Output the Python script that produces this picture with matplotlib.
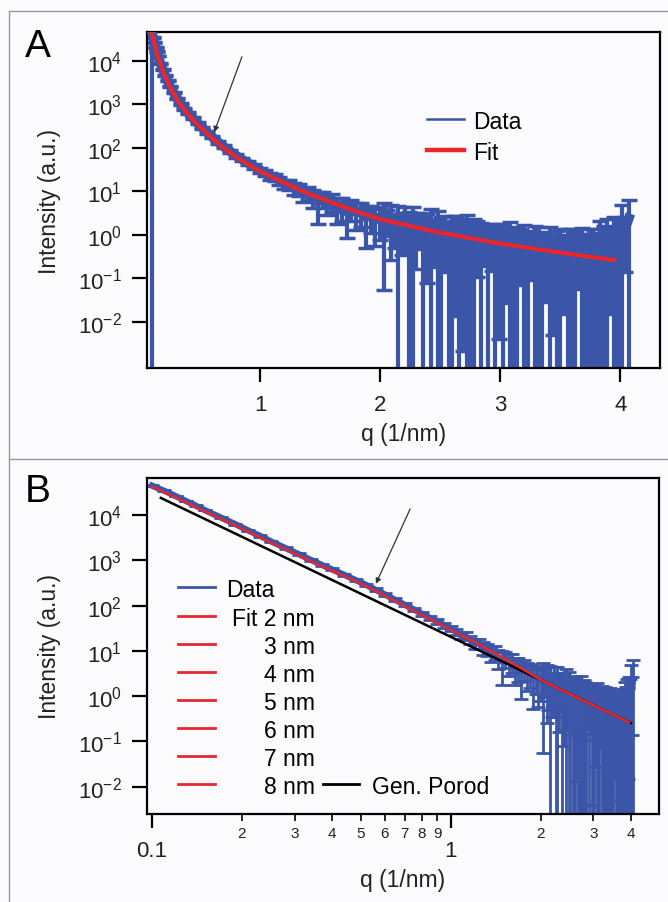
"""
Two-panel SAXS figure: (A) intensity vs q on a linear q axis with the fit,
(B) the same data on log-log axes with the size-series fits and the
generalised Porod line.

Output:
    out.png
"""
import numpy as np
import matplotlib
matplotlib.use('Agg')
import matplotlib.pyplot as plt
from matplotlib.lines import Line2D
from matplotlib.ticker import (FixedLocator, FixedFormatter, FuncFormatter,
                               NullLocator, LogFormatterSciNotation)

plt.rcParams['font.family'] = ['Liberation Sans', 'DejaVu Sans']
plt.rcParams['axes.unicode_minus'] = False
plt.rcParams['mathtext.default'] = 'regular'

BLUE = '#3b55a8'
RED = '#e8262b'
BG = '#fbfbfd'
GRID_GRAY = '#9a9a9a'

# ---- measured data (q in 1/nm, intensity in a.u., relative error) ----
q_data = [0.10, 0.11, 0.12, 0.13, 0.14, 0.15, 0.17, 0.19, 0.21, 0.23,
          0.25, 0.28, 0.31, 0.34, 0.37, 0.40, 0.44, 0.48, 0.52, 0.56,
          0.60, 0.65, 0.70, 0.75, 0.80, 0.85, 0.90, 0.95, 1.00,
          1.04, 1.08, 1.12, 1.16, 1.20, 1.24, 1.28, 1.32, 1.36, 1.40,
          1.44, 1.48, 1.52, 1.56, 1.60, 1.64, 1.68, 1.72, 1.76, 1.80,
          1.84, 1.88, 1.92, 1.96, 2.00,
          2.03, 2.06, 2.09, 2.12, 2.15, 2.18, 2.21, 2.24, 2.27, 2.30,
          2.33, 2.36, 2.39, 2.42, 2.45, 2.48, 2.51, 2.54, 2.57, 2.60,
          2.63, 2.66, 2.69, 2.72, 2.75, 2.78, 2.81, 2.84, 2.87, 2.90,
          2.93, 2.96, 2.99, 3.02, 3.05, 3.08, 3.11, 3.14, 3.17, 3.20,
          3.23, 3.26, 3.29, 3.32, 3.35, 3.38, 3.41, 3.44, 3.47, 3.50,
          3.53, 3.56, 3.59, 3.62, 3.65, 3.68, 3.71, 3.74, 3.77, 3.80,
          3.83, 3.86, 3.89, 3.92, 3.95, 3.98, 4.01, 4.04, 4.07]
I_data = [44700, 34300, 26300, 20400, 16200, 12900, 8810, 6310, 4570, 3470,
          2630, 1860, 1365, 1023, 794, 631, 479, 367, 288, 224,
          178, 135, 105, 83, 66, 54, 44.7, 37, 30.9,
          26.5, 21.9, 21.3, 17.7, 14.8, 14.7, 11.9, 11.1, 8.85, 9.55,
          7.35, 5.8, 6.93, 5.62, 6.03, 4.45, 4.54, 3.44, 4.25, 3.31,
          3.40, 2.55, 2.82, 2.26, 2.57,
          2.75, 2.34, 2.62, 1.69, 2.19, 1.74, 2.36, 1.49, 1.93, 1.65,
          1.86, 1.29, 1.56, 1.77, 1.20, 1.45, 1.25, 1.41, 0.92, 1.25,
          1.35, 1.04, 1.07, 1.14, 0.87, 1.01, 1.07, 0.84, 0.96, 0.85,
          0.96, 0.69, 0.80, 0.81, 0.67, 0.82, 0.71, 0.58, 0.70, 0.78,
          0.57, 0.61, 0.68, 0.72, 0.53, 0.57, 0.64, 0.51, 0.56, 0.64,
          0.50, 0.58, 0.63, 0.49, 0.56, 0.63, 0.49, 0.56, 0.61, 0.49,
          0.82, 0.71, 0.98, 0.76, 1.05, 1.02, 1.99, 1.38, 2.39]
rel_err = [0.02, 0.02, 0.02, 0.02, 0.02, 0.02, 0.03, 0.03, 0.03, 0.03,
           0.03, 0.04, 0.04, 0.04, 0.05, 0.05, 0.05, 0.06, 0.06, 0.07,
           0.07, 0.08, 0.08, 0.09, 0.10, 0.10, 0.11, 0.12, 0.13,
           0.15, 0.18, 0.20, 0.20, 0.25, 0.25, 0.30, 0.30, 0.35, 0.35,
           0.45, 0.70, 0.40, 0.50, 0.45, 0.60, 0.55, 0.75, 0.50, 0.60,
           0.55, 0.80, 0.60, 0.75, 0.70,
           0.98, 0.60, 0.90, 0.70, 1.10, 0.80, 0.85, 1.20, 1.30, 0.90,
           0.75, 1.10, 0.95, 1.20, 0.85, 1.40, 1.10, 0.90, 1.30, 1.20,
           0.99, 1.20, 0.998, 1.50, 1.10, 1.30, 0.90, 1.20, 0.80, 1.10,
           0.85, 1.30, 0.995, 1.20, 0.96, 1.40, 1.10, 1.30, 0.90, 1.20,
           1.10, 0.85, 1.30, 1.10, 1.20, 0.95, 1.40, 0.99, 1.20, 1.10,
           0.97, 1.30, 1.20, 1.50, 0.90, 1.30, 1.10, 1.40, 1.20, 1.30,
           1.50, 1.20, 1.40, 0.98, 1.50, 1.30, 1.50, 0.90, 1.60]
# in panel A the first point's error bar runs down off the axis
rel_err_first_A = 1.0

# ---- model fit ----
q_fit = [0.10, 0.12, 0.15, 0.20, 0.25, 0.30, 0.35, 0.40, 0.45, 0.50,
         0.55, 0.60, 0.70, 0.80, 0.90, 1.00, 1.20, 1.40, 1.60, 1.80,
         2.00, 2.50, 3.00, 3.50, 3.95]
I_fit = [42700, 24500, 12000, 5010, 2455, 1413, 871, 589, 417, 302,
         224, 166, 97.7, 61.7, 41.7, 28.8, 15.8, 8.9, 5.5, 3.47,
         2.29, 1.12, 0.63, 0.39, 0.263]

# ---- generalised Porod power law ----
q_porod = [0.107, 1.0, 4.0]
I_porod = [2.4e4, 20.4, 0.256]

fit_labels = ['Fit 2 nm', '3 nm', '4 nm', '5 nm', '6 nm', '7 nm', '8 nm']


def error_bars(I, rel):
    I = np.asarray(I, dtype=float)
    rel = np.asarray(rel, dtype=float)
    lo = I * np.minimum(rel, 1 - 1e-9)
    hi = I * rel
    return np.vstack([lo, hi])


def style_axes(ax):
    ax.set_facecolor(BG)
    for sp in ax.spines.values():
        sp.set_linewidth(1.6)
        sp.set_color('black')
    ax.tick_params(which='both', direction='out', top=False, right=False,
                   colors='black', labelcolor='#222222')
    ax.tick_params(axis='y', which='major', length=11, width=1.6,
                   pad=7, labelsize=16)
    ax.yaxis.set_major_locator(FixedLocator([1e-2, 1e-1, 1, 10, 1e2, 1e3, 1e4]))
    ax.yaxis.set_major_formatter(LogFormatterSciNotation())
    ax.yaxis.set_minor_locator(NullLocator())
    ax.set_ylabel('Intensity (a.u.)', fontsize=16.5, labelpad=12,
                  color='#222222')
    ax.set_xlabel('q (1/nm)', fontsize=16.5, labelpad=5, color='#222222')


fig = plt.figure(figsize=(6.68, 9.03), dpi=100, facecolor=BG)

# panel frames
for xs, ys in [([9 / 668, 1.0], [1 - 12 / 903] * 2),
               ([9 / 668, 1.0], [1 - 460 / 903] * 2),
               ([9 / 668] * 2, [0.0, 1 - 12 / 903])]:
    fig.add_artist(Line2D(xs, ys, transform=fig.transFigure,
                          color=GRID_GRAY, lw=1.0))

# ---------------- panel A ----------------
axA = fig.add_axes([147 / 668, 1 - 369 / 903, 513 / 668, 336 / 903])
rel_A = list(rel_err)
rel_A[0] = rel_err_first_A
axA.errorbar(q_data, I_data, yerr=error_bars(I_data, rel_A), fmt='none',
             ecolor=BLUE, elinewidth=3.0, capsize=5.5, capthick=2.5, zorder=2)
axA.plot(q_data, I_data, color=BLUE, lw=7, zorder=3)
axA.plot(q_fit, I_fit, color=RED, lw=3, zorder=4)
axA.set_yscale('log')
axA.set_xlim(0.058, 4.33)
axA.set_ylim(8.7e-4, 4.6e4)
style_axes(axA)
axA.xaxis.set_major_locator(FixedLocator([1, 2, 3, 4]))
axA.xaxis.set_major_formatter(FixedFormatter(['1', '2', '3', '4']))
axA.xaxis.set_minor_locator(NullLocator())
axA.tick_params(axis='x', which='major', length=10, width=1.6, pad=9,
                labelsize=16)

# legend A
axA.plot([0.546, 0.618], [0.741, 0.741], transform=axA.transAxes,
         color=BLUE, lw=1.8, clip_on=False)
axA.plot([0.546, 0.618], [0.649, 0.649], transform=axA.transAxes,
         color=RED, lw=3.2, clip_on=False)
axA.text(0.635, 0.741, 'Data', transform=axA.transAxes, fontsize=16.5,
         va='center_baseline', ha='left')
axA.text(0.635, 0.649, 'Fit', transform=axA.transAxes, fontsize=16.5,
         va='center_baseline', ha='left')
axA.annotate('', xy=(0.131, 0.702), xytext=(0.185, 0.926),
             xycoords='axes fraction',
             arrowprops=dict(arrowstyle='-|>', color='#333333', lw=0.9,
                             mutation_scale=8, shrinkA=0, shrinkB=0))

# ---------------- panel B ----------------
axB = fig.add_axes([147 / 668, 1 - 815 / 903, 512 / 668, 336 / 903])
axB.errorbar(q_data, I_data, yerr=error_bars(I_data, rel_err), fmt='none',
             ecolor=BLUE, elinewidth=2.0, capsize=5, capthick=2.0, zorder=2)
axB.plot(q_data, I_data, color=BLUE, lw=4.5, zorder=3)
axB.plot(q_porod, I_porod, color='black', lw=1.8, zorder=4)
axB.plot(q_fit, I_fit, color=RED, lw=1.8, zorder=5)
axB.set_xscale('log')
axB.set_yscale('log')
axB.set_xlim(0.0962, 4.97)
axB.set_ylim(2.5e-3, 6.6e4)
style_axes(axB)
axB.xaxis.set_major_locator(FixedLocator([0.1, 1]))
axB.xaxis.set_major_formatter(FixedFormatter(['0.1', '1']))
axB.xaxis.set_minor_locator(FixedLocator(
    [0.2, 0.3, 0.4, 0.5, 0.6, 0.7, 0.8, 0.9, 2, 3, 4]))
axB.xaxis.set_minor_formatter(FuncFormatter(
    lambda v, _: '%d' % round(v / 10 ** np.floor(np.log10(v) + 1e-9))))
axB.tick_params(axis='x', which='major', length=10, width=1.6, pad=9,
                labelsize=16)
axB.tick_params(axis='x', which='minor', length=5, width=1.2, pad=4,
                labelsize=11)

# legend B
rows_y = [0.676, 0.589, 0.506, 0.423, 0.339, 0.256, 0.173, 0.089]
axB.plot([0.060, 0.133], [rows_y[0]] * 2, transform=axB.transAxes,
         color=BLUE, lw=2, clip_on=False)
axB.text(0.154, rows_y[0], 'Data', transform=axB.transAxes, fontsize=16.5,
         va='center_baseline', ha='left')
for y, lab in zip(rows_y[1:], fit_labels):
    axB.plot([0.060, 0.133], [y, y], transform=axB.transAxes,
             color=RED, lw=2, clip_on=False)
    axB.text(0.328, y, lab, transform=axB.transAxes, fontsize=16.5,
             va='center_baseline', ha='right')
axB.plot([0.344, 0.414], [rows_y[-1]] * 2, transform=axB.transAxes,
         color='black', lw=2, clip_on=False)
axB.text(0.439, rows_y[-1], 'Gen. Porod', transform=axB.transAxes,
         fontsize=16.5, va='center_baseline', ha='left')
axB.annotate('', xy=(0.447, 0.685), xytext=(0.514, 0.908),
             xycoords='axes fraction',
             arrowprops=dict(arrowstyle='-|>', color='#333333', lw=0.9,
                             mutation_scale=8, shrinkA=0, shrinkB=0))

# panel letters
fig.text(38 / 668, 1 - 47 / 903, 'A', fontsize=28, ha='center', va='center')
fig.text(38 / 668, 1 - 492 / 903, 'B', fontsize=28, ha='center', va='center')

fig.savefig('out.png', dpi=100, facecolor=BG)
